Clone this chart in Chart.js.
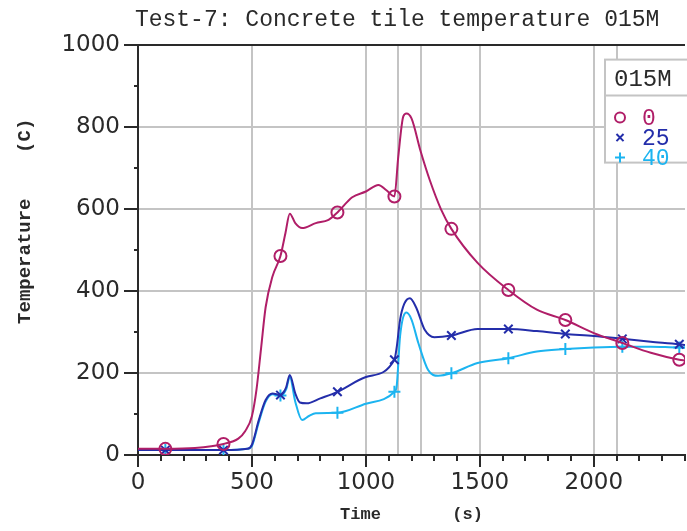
<!DOCTYPE html>
<html>
<head>
<meta charset="utf-8">
<script src="https://cdn.jsdelivr.net/npm/chart.js@4.4.1/dist/chart.umd.min.js"></script>
<style>
  html, body { margin: 0; padding: 0; background: #fff; }
  #wrap { width: 687px; height: 531px; }
</style>
</head>
<body>
<div id="wrap"><canvas id="c" width="687" height="531"></canvas></div>
<script>
// depth 0 (surface)
const redTime = [0, 120, 250, 375, 440, 470, 500, 520, 540, 560, 590, 625, 647, 666, 690, 720, 780, 836, 875, 940, 1000, 1055, 1090, 1125, 1142, 1164, 1178, 1200, 1240, 1280, 1330, 1375, 1490, 1625, 1750, 1875, 2000, 2125, 2250, 2375, 2400];
const redTemp = [15, 15, 17, 27, 40, 58, 95, 160, 260, 360, 435, 485, 541, 588, 565, 553, 565, 573, 591, 628, 642, 658, 645, 630, 727, 825, 832, 820, 740, 670, 598, 551, 468, 402, 354, 329, 297, 273, 249, 232, 230];

// depth 25
const blueTime = [0, 120, 375, 480, 500, 530, 560, 590, 625, 650, 666, 690, 710, 740, 800, 875, 1000, 1125, 1135, 1150, 1168, 1193, 1220, 1258, 1300, 1375, 1490, 1625, 1750, 1875, 2000, 2125, 2250, 2375, 2400];
const blueTemp = [12, 12, 12, 15, 25, 85, 134, 150, 146, 165, 195, 150, 128, 126, 138, 154, 190, 232, 262, 330, 368, 382, 360, 305, 287, 291, 307, 307, 302, 295, 290, 283, 276, 270, 268];

// depth 40
const cyanTime = [0, 120, 375, 480, 500, 530, 560, 590, 625, 650, 666, 690, 720, 750, 780, 875, 1000, 1125, 1135, 1150, 1178, 1200, 1230, 1273, 1317, 1375, 1490, 1625, 1750, 1875, 2000, 2125, 2250, 2375, 2400];
const cyanTemp = [12, 12, 12, 15, 22, 80, 130, 148, 145, 160, 190, 130, 85, 95, 102, 103, 125, 154, 168, 290, 347, 330, 273, 207, 193, 199, 224, 236, 252, 258, 262, 264, 264, 262, 262];

const markerTimes = [120, 375, 625, 875, 1125, 1375, 1625, 1875, 2125, 2375];

const xTicks = [0, 100, 200, 300, 400, 500, 600, 700, 800, 900, 1000, 1100, 1200, 1300, 1400, 1500, 1600, 1700, 1800, 1900, 2000, 2100, 2200, 2300, 2400];
const xLabelled = [0, 500, 1000, 1500, 2000];
const xEventLines = [1140, 1240, 2100];
const yTicks = [0, 100, 200, 300, 400, 500, 600, 700, 800, 900, 1000];
const yLabelled = [0, 200, 400, 600, 800, 1000];

const legendTitle = "015M";
const seriesNames = ["0", "25", "40"];

const RED = "rgb(176, 30, 104)";
const BLUE = "rgb(36, 46, 170)";
const CYAN = "rgb(28, 180, 240)";
const GRID = "#c4c4c4";
const INK = "#2a2a2a";

function toPoints(t, v) {
  return t.map((x, i) => ({ x: x, y: v[i] }));
}

function markerRadius(ctx) {
  return ctx.raw && markerTimes.includes(ctx.raw.x) ? 6 : 0;
}

// legend box inside the plot, top right
const legendBox = {
  id: "legendBox",
  afterDraw(chart) {
    const c = chart.ctx;
    const a = chart.chartArea;
    const x = a.right - 80, y = a.top + 15, w = 84, h = 103;
    c.save();
    c.fillStyle = "#fff";
    c.fillRect(x, y, w, h);
    c.strokeStyle = GRID;
    c.lineWidth = 2;
    c.strokeRect(x, y, w, h);
    c.beginPath();
    c.moveTo(x, y + 36);
    c.lineTo(x + w, y + 36);
    c.stroke();
    c.fillStyle = INK;
    c.font = "24px 'Liberation Mono'";
    c.textBaseline = "middle";
    c.textAlign = "left";
    c.fillText(legendTitle, x + 9, y + 20);
    chart.data.datasets.forEach((ds, i) => {
      const ry = y + 58 + i * 20;
      const style = { pointStyle: ds.pointStyle, radius: 5, borderWidth: 2, rotation: 0 };
      c.strokeStyle = ds.borderColor;
      c.lineWidth = 2;
      if (Chart.helpers && Chart.helpers.drawPoint) {
        c.fillStyle = "rgba(0,0,0,0)";
        Chart.helpers.drawPoint(c, style, x + 15, ry);
      }
      c.fillStyle = ds.borderColor;
      c.font = "23px 'Liberation Mono'";
      c.fillText(seriesNames[i], x + 37, ry + 1);
    });
    c.restore();
  }
};

const tickFont = { family: "'DejaVu Sans'", size: 23 };

new Chart(document.getElementById("c"), {
  type: "line",
  data: {
    datasets: [
      {
        label: seriesNames[0],
        data: toPoints(redTime, redTemp),
        borderColor: RED,
        borderWidth: 2,
        pointStyle: "circle",
        pointRadius: markerRadius,
        pointBorderWidth: 2,
        pointBorderColor: RED,
        pointBackgroundColor: "rgba(0,0,0,0)",
        cubicInterpolationMode: "monotone",
        fill: false
      },
      {
        label: seriesNames[1],
        data: toPoints(blueTime, blueTemp),
        borderColor: BLUE,
        borderWidth: 2,
        pointStyle: "crossRot",
        pointRadius: markerRadius,
        pointBorderWidth: 2,
        pointBorderColor: BLUE,
        cubicInterpolationMode: "monotone",
        fill: false
      },
      {
        label: seriesNames[2],
        data: toPoints(cyanTime, cyanTemp),
        borderColor: CYAN,
        borderWidth: 2,
        pointStyle: "cross",
        pointRadius: markerRadius,
        pointBorderWidth: 2,
        pointBorderColor: CYAN,
        cubicInterpolationMode: "monotone",
        fill: false
      }
    ]
  },
  options: {
    responsive: false,
    animation: false,
    events: [],
    layout: { padding: 0 },
    plugins: {
      legend: { display: false },
      tooltip: { enabled: false },
      title: {
        display: true,
        text: "Test-7: Concrete tile temperature 015M  ",
        align: "end",
        color: INK,
        font: { family: "'Liberation Mono'", size: 23, weight: "normal" },
        padding: { top: 6, bottom: 11 }
      }
    },
    scales: {
      x: {
        type: "linear",
        min: 0,
        max: 2400,
        afterBuildTicks: s => {
          const all = Array.from(new Set(xTicks.concat(xEventLines))).sort((a, b) => a - b);
          s.ticks = all.map(v => ({ value: v }));
        },
        afterFit: s => { s.height = 76; },
        title: {
          display: true,
          text: "Time       (s)",
          color: INK,
          font: { family: "'Liberation Mono'", size: 17, weight: "bold" },
          padding: { top: 0, bottom: 6 }
        },
        ticks: {
          autoSkip: false,
          maxRotation: 0,
          color: INK,
          font: tickFont,
          padding: 2,
          callback: v => xLabelled.includes(v) ? String(v) : ""
        },
        grid: {
          lineWidth: 2,
          tickLength: 12,
          tickWidth: 2,
          color: ctx => {
            const v = ctx.tick ? ctx.tick.value : -1;
            return (v > 0 && xLabelled.includes(v)) || xEventLines.includes(v) ? GRID : "rgba(0,0,0,0)";
          },
          tickColor: ctx => ctx.tick && xTicks.includes(ctx.tick.value) ? INK : "rgba(0,0,0,0)",
          tickBorderDash: ctx => ctx.tick && xLabelled.includes(ctx.tick.value) ? [] : [5, 40]
        },
        border: { color: INK, width: 2 }
      },
      y: {
        type: "linear",
        min: 0,
        max: 1000,
        afterBuildTicks: s => { s.ticks = yTicks.map(v => ({ value: v })); },
        afterFit: s => { s.width = 138; },
        title: {
          display: true,
          text: "     Temperature    (C)",
          color: INK,
          font: { family: "'Liberation Mono'", size: 19, weight: "bold" },
          padding: { top: 14, bottom: 0 }
        },
        ticks: {
          autoSkip: false,
          color: INK,
          font: tickFont,
          padding: 4,
          callback: v => yLabelled.includes(v) ? String(v) : ""
        },
        grid: {
          lineWidth: 2,
          tickLength: 14,
          tickWidth: 2,
          color: ctx => {
            const v = ctx.tick ? ctx.tick.value : -1;
            if (v === 1000) return INK;
            return v > 0 && yLabelled.includes(v) ? GRID : "rgba(0,0,0,0)";
          },
          tickColor: INK,
          tickBorderDash: ctx => ctx.tick && yLabelled.includes(ctx.tick.value) ? [] : [0, 10, 4, 40]
        },
        border: { color: INK, width: 2 }
      }
    }
  },
  plugins: [legendBox]
});
</script>
</body>
</html>
